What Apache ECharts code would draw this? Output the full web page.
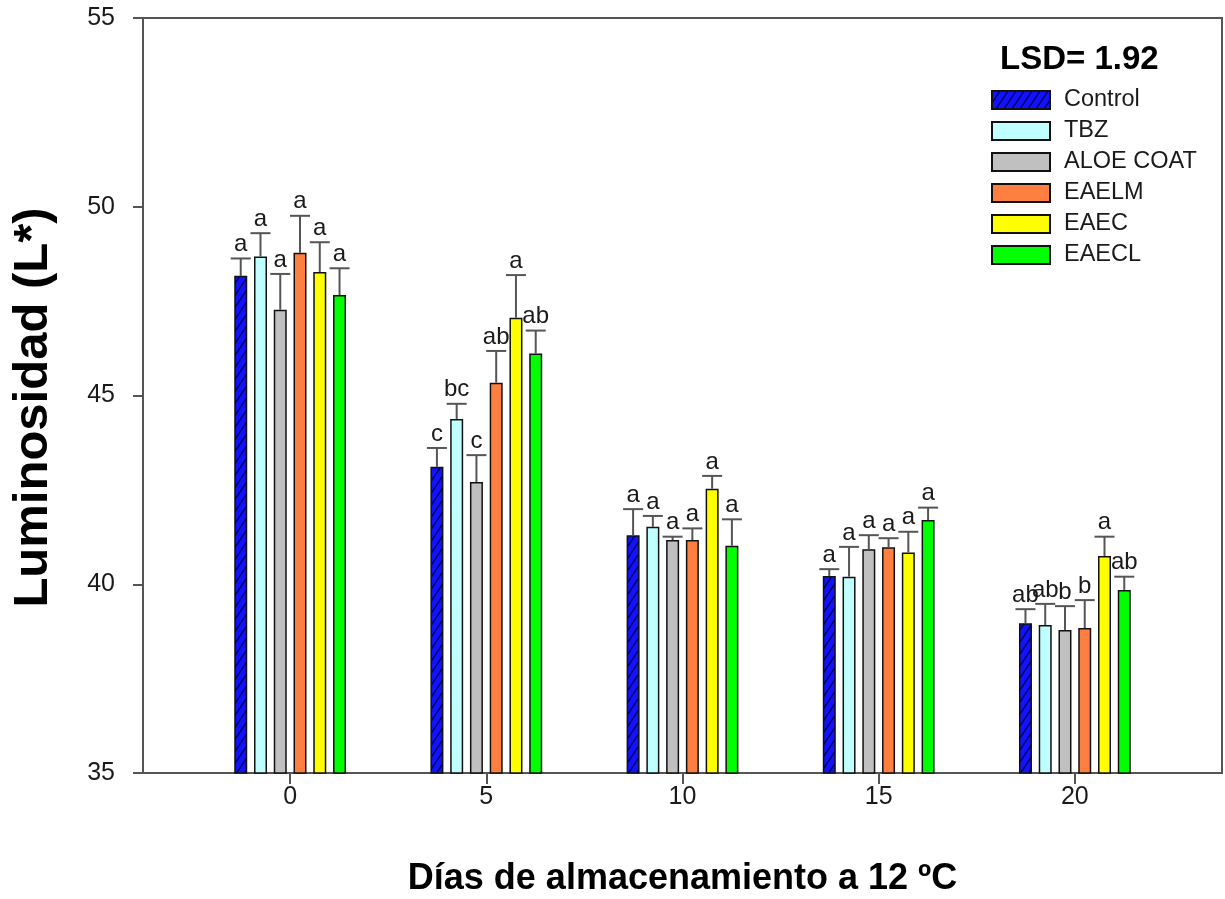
<!DOCTYPE html>
<html>
<head>
<meta charset="utf-8">
<script src="https://cdn.jsdelivr.net/npm/echarts@6/dist/echarts.min.js"></script>
<style>
  html, body { margin: 0; padding: 0; background: #fff; }
  #chart { width: 1225px; height: 899px; }
</style>
</head>
<body>
<div id="chart"></div>
<script>
// Storage days at 12 ºC
const days = [0, 5, 10, 15, 20];
const tickDays = [0, 5, 10, 15, 20];
const yTicks = [35, 40, 45, 50, 55];

const treatments = ['Control', 'TBZ', 'ALOE COAT', 'EAELM', 'EAEC', 'EAECL'];

// Mean lightness (L*) per treatment
const control = [48.17, 43.11, 41.30, 40.22, 38.97];
const tbz     = [48.68, 44.38, 41.52, 40.20, 38.92];
const aloe    = [47.27, 42.71, 41.17, 40.93, 38.79];
const eaelm   = [48.78, 45.34, 41.17, 40.98, 38.84];
const eaec    = [48.27, 47.06, 42.53, 40.84, 40.75];
const eaecl   = [47.66, 46.11, 41.02, 41.70, 39.85];

// Standard errors
const controlErr = [0.46, 0.50, 0.69, 0.18, 0.37];
const tbzErr     = [0.62, 0.40, 0.29, 0.79, 0.56];
const aloeErr    = [0.95, 0.71, 0.09, 0.37, 0.63];
const eaelmErr   = [0.98, 0.84, 0.31, 0.24, 0.74];
const eaecErr    = [0.79, 1.13, 0.34, 0.55, 0.51];
const eaeclErr   = [0.71, 0.61, 0.70, 0.33, 0.35];

// Mean separation letters
const controlLetters = ['a', 'c', 'a', 'a', 'ab'];
const tbzLetters     = ['a', 'bc', 'a', 'a', 'ab'];
const aloeLetters    = ['a', 'c', 'a', 'a', 'b'];
const eaelmLetters   = ['a', 'ab', 'a', 'a', 'b'];
const eaecLetters    = ['a', 'a', 'a', 'a', 'a'];
const eaeclLetters   = ['a', 'ab', 'a', 'a', 'ab'];

const lsdText = 'LSD= 1.92';

const means = [control, tbz, aloe, eaelm, eaec, eaecl];
const errs = [controlErr, tbzErr, aloeErr, eaelmErr, eaecErr, eaeclErr];
const letters = [controlLetters, tbzLetters, aloeLetters, eaelmLetters, eaecLetters, eaeclLetters];

// Diagonal hatch fill for the control bars
function hatch() {
  const c = document.createElement('canvas');
  c.width = 8; c.height = 12;
  const g = c.getContext('2d');
  g.fillStyle = '#1212ff';
  g.fillRect(0, 0, 8, 12);
  g.strokeStyle = '#000060';
  g.lineWidth = 1.4;
  g.beginPath();
  g.moveTo(-1, 13.5); g.lineTo(9, -1.5);
  g.moveTo(-1, 1.5); g.lineTo(1, -1.5);
  g.moveTo(7, 13.5); g.lineTo(9, 10.5);
  g.stroke();
  return { image: c, repeat: 'repeat' };
}

const fills = [hatch(), '#c0ffff', '#c0c0c0', '#ff7f40', '#ffff00', '#00ff00'];

const FONT = 'Liberation Sans, Arial, sans-serif';
const BAR_W = 13;
const GAP = 0.52;
const STEP = BAR_W * (1 + GAP);
const TEXT = '#1a1a1a';
const AXIS = '#555555';

const barSeries = treatments.map((name, k) => ({
  name,
  type: 'bar',
  barWidth: BAR_W,
  barGap: (GAP * 100) + '%',
  data: days.map((d, i) => [d, means[k][i]]),
  itemStyle: { color: fills[k], borderColor: '#111', borderWidth: 1.5 },
  z: 2
}));

// Error bars (upper whisker with cap) and letter labels
const errSeries = treatments.map((name, k) => ({
  type: 'custom',
  z: 3,
  data: days.map((d, i) => [d, means[k][i], means[k][i] + errs[k][i]]),
  encode: { x: 0, y: [1, 2] },
  renderItem(params, api) {
    const x = api.value(0);
    const base = api.coord([x, api.value(1)]);
    const top = api.coord([x, api.value(2)]);
    const cx = base[0] + (k - 2.5) * STEP;
    const lineStyle = { stroke: AXIS, lineWidth: 2 };
    return {
      type: 'group',
      children: [
        { type: 'line', shape: { x1: cx, y1: base[1], x2: cx, y2: top[1] }, style: lineStyle },
        { type: 'line', shape: { x1: cx - 10, y1: top[1], x2: cx + 10, y2: top[1] }, style: lineStyle },
        {
          type: 'text',
          style: {
            text: letters[k][params.dataIndex],
            x: cx, y: top[1] - 2,
            align: 'center', verticalAlign: 'bottom',
            font: '24px ' + FONT, fill: TEXT
          }
        }
      ]
    };
  }
}));

const chart = echarts.init(document.getElementById('chart'), null, { renderer: 'canvas' });
chart.setOption({
  animation: false,
  backgroundColor: '#fff',
  title: {
    text: lsdText,
    left: 995, top: 38,
    textStyle: { fontFamily: FONT, fontSize: 33, fontWeight: 'bold', color: '#000' }
  },
  legend: {
    data: treatments,
    orient: 'vertical',
    left: 986, top: 83,
    itemWidth: 58, itemHeight: 18, itemGap: 7,
    icon: 'rect',
    textStyle: { fontFamily: FONT, fontSize: 23.5, color: TEXT, padding: [0, 0, 0, 9] }
  },
  grid: {
    left: 143, right: 3, top: 18, bottom: 126,
    containLabel: false,
    outerBoundsMode: 'none',
    show: true, borderColor: AXIS, borderWidth: 2
  },
  xAxis: {
    type: 'value',
    min: -3.75, max: 23.75,
    name: 'Días de almacenamiento a 12 ºC',
    nameLocation: 'middle', nameGap: 88,
    nameTextStyle: { fontFamily: FONT, fontSize: 36, fontWeight: 'bold', color: '#000' },
    axisLine: { onZero: false, lineStyle: { color: AXIS, width: 2 } },
    axisTick: { show: true, length: 11, customValues: tickDays, lineStyle: { color: AXIS, width: 2 } },
    axisLabel: { customValues: tickDays, margin: 12, fontFamily: FONT, fontSize: 25, color: TEXT },
    splitLine: { show: false }
  },
  yAxis: {
    type: 'value',
    min: yTicks[0], max: yTicks[yTicks.length - 1], interval: 5,
    name: 'Luminosidad (L*)',
    nameLocation: 'middle', nameGap: 85, nameRotate: 90,
    nameTextStyle: { fontFamily: FONT, fontSize: 49, fontWeight: 'bold', color: '#000', padding: [0, 24, 0, 0] },
    axisLine: { show: true, onZero: false, lineStyle: { color: AXIS, width: 2 } },
    axisTick: { show: true, length: 10, lineStyle: { color: AXIS, width: 2 } },
    axisLabel: { margin: 28, fontFamily: FONT, fontSize: 25, color: TEXT },
    splitLine: { show: false }
  },
  series: [...barSeries, ...errSeries]
});
</script>
</body>
</html>
